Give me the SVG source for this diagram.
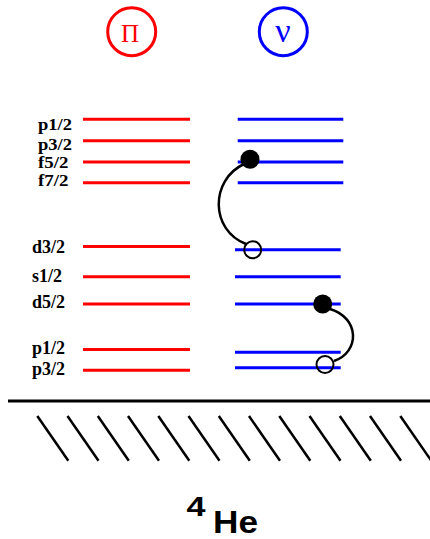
<svg xmlns="http://www.w3.org/2000/svg" width="430" height="539" viewBox="0 0 430 539">
<style>
.lbl{font-family:"Liberation Serif","Times New Roman",serif;font-weight:bold;font-size:18px;fill:#000}
.up{font-size:17px}
.red{stroke:#ff0000;stroke-width:3}
.blue{stroke:#0000ff;stroke-width:3}
.hatch{stroke:#000;stroke-width:2.5}
.conn{fill:none;stroke:#000;stroke-width:2.5}
.nuc{font-family:"Liberation Sans",Arial,sans-serif;font-weight:bold;fill:#000}
</style>
<rect width="430" height="539" fill="#fff"/>
<g id="proton-header">
<circle cx="131.7" cy="31.7" r="24" fill="none" stroke="#ff0000" stroke-width="3"/>
<text x="130" y="42" text-anchor="middle" font-family="Liberation Serif,serif" font-size="25" fill="#ff0000">Π</text>
</g>
<g id="neutron-header">
<circle cx="283.3" cy="31.7" r="24" fill="none" stroke="#0000ff" stroke-width="3"/>
<text x="283" y="42" text-anchor="middle" font-family="Liberation Serif,serif" font-size="34" fill="#0000ff">ν</text>
</g>
<g id="proton-levels">
<line class="red" x1="83" y1="119.3" x2="190" y2="119.3"/>
<line class="red" x1="83" y1="140.7" x2="190" y2="140.7"/>
<line class="red" x1="83" y1="162" x2="190" y2="162"/>
<line class="red" x1="83" y1="182.7" x2="190" y2="182.7"/>
<line class="red" x1="83" y1="246.5" x2="190" y2="246.5"/>
<line class="red" x1="83" y1="276.7" x2="190" y2="276.7"/>
<line class="red" x1="83" y1="304" x2="190" y2="304"/>
<line class="red" x1="83" y1="349.5" x2="190" y2="349.5"/>
<line class="red" x1="83" y1="370.3" x2="190" y2="370.3"/>
</g>
<g id="labels">
<text class="lbl up" x="38" y="129.5" textLength="34" lengthAdjust="spacingAndGlyphs">p1/2</text>
<text class="lbl up" x="38" y="149.5" textLength="34" lengthAdjust="spacingAndGlyphs">p3/2</text>
<text class="lbl up" x="38" y="167.7" textLength="30.5" lengthAdjust="spacingAndGlyphs">f5/2</text>
<text class="lbl up" x="38" y="186" textLength="30.5" lengthAdjust="spacingAndGlyphs">f7/2</text>
<text class="lbl" x="32" y="252.5">d3/2</text>
<text class="lbl" x="32" y="281.5">s1/2</text>
<text class="lbl" x="32" y="308">d5/2</text>
<text class="lbl" x="32" y="354">p1/2</text>
<text class="lbl" x="32" y="374.7">p3/2</text>
</g>
<g id="neutron-levels">
<line class="blue" x1="237.7" y1="119.3" x2="343.3" y2="119.3"/>
<line class="blue" x1="237.7" y1="140.7" x2="343.3" y2="140.7"/>
<line class="blue" x1="237.7" y1="162" x2="343.3" y2="162"/>
<line class="blue" x1="237.7" y1="182.7" x2="343.3" y2="182.7"/>
<line class="blue" x1="235" y1="249.7" x2="340.7" y2="249.7"/>
<line class="blue" x1="235" y1="276.7" x2="340.7" y2="276.7"/>
<line class="blue" x1="235" y1="304" x2="340.7" y2="304"/>
<line class="blue" x1="235" y1="352.3" x2="340.7" y2="352.3"/>
<line class="blue" x1="235" y1="367.7" x2="340.7" y2="367.7"/>
</g>
<g id="connectors">
<path class="conn" d="M244,164 C210,180 210,230 246,244"/>
<path class="conn" d="M330,309 C360,318 360,352 334,361"/>
</g>
<g id="particle-1">
<circle cx="250" cy="159.3" r="9.5" fill="#000"/>
</g>
<g id="hole-1">
<circle cx="252.7" cy="249.7" r="8.5" fill="none" stroke="#000" stroke-width="2"/>
</g>
<g id="particle-2">
<circle cx="322.7" cy="304" r="9.5" fill="#000"/>
</g>
<g id="hole-2">
<circle cx="325" cy="364.5" r="8.5" fill="none" stroke="#000" stroke-width="2"/>
</g>
<g id="ground">
<line x1="8" y1="401" x2="430" y2="401" stroke="#000" stroke-width="3"/>
<line class="hatch" x1="37.3" y1="416" x2="68.3" y2="460.7"/>
<line class="hatch" x1="67.5" y1="416" x2="98.5" y2="460.7"/>
<line class="hatch" x1="97.8" y1="416" x2="128.8" y2="460.7"/>
<line class="hatch" x1="128" y1="416" x2="159" y2="460.7"/>
<line class="hatch" x1="158.3" y1="416" x2="189.3" y2="460.7"/>
<line class="hatch" x1="188.5" y1="416" x2="219.5" y2="460.7"/>
<line class="hatch" x1="218.8" y1="416" x2="249.8" y2="460.7"/>
<line class="hatch" x1="249" y1="416" x2="280" y2="460.7"/>
<line class="hatch" x1="279.3" y1="416" x2="310.3" y2="460.7"/>
<line class="hatch" x1="309.5" y1="416" x2="340.5" y2="460.7"/>
<line class="hatch" x1="339.8" y1="416" x2="370.8" y2="460.7"/>
<line class="hatch" x1="370" y1="416" x2="401" y2="460.7"/>
<line class="hatch" x1="400.3" y1="416" x2="431.3" y2="460.7"/>
</g>
<g id="nucleus-label">
<text class="nuc" x="186.5" y="516" font-size="28" textLength="19" lengthAdjust="spacingAndGlyphs">4</text>
<text class="nuc" x="213" y="533.3" font-size="32" textLength="45" lengthAdjust="spacingAndGlyphs">He</text>
</g>
</svg>
